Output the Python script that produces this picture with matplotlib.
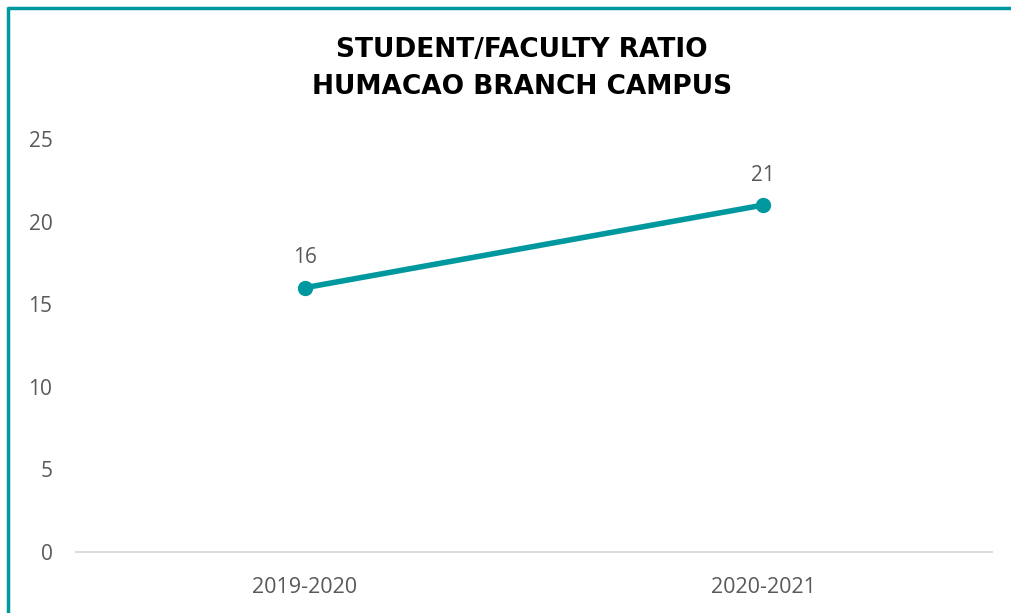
import matplotlib.pyplot as plt
from matplotlib.lines import Line2D

# Data
years = ['2019-2020', '2020-2021']
ratios = [16, 21]
y_ticks = [0, 5, 10, 15, 20, 25]

TEAL = '#00989F'
GREY_TEXT = '#595959'

fig = plt.figure(figsize=(10.12, 6.13), dpi=100)
ax = fig.add_axes([0.0751, 0.0995, 0.9051, 0.6737])

x = list(range(len(years)))
ax.plot(x, ratios, color=TEAL, linewidth=4, marker='o', markersize=10,
        solid_capstyle='round')

# Data labels
for xi, v in zip(x, ratios):
    ax.annotate(f'{v}', (xi, v), xytext=(0, 14), textcoords='offset points',
                ha='center', va='bottom', fontsize=15, color=GREY_TEXT,
                family='Open Sans')

ax.set_xlim(-0.5, len(years) - 0.5)
ax.set_ylim(0, 25)
ax.set_xticks(x)
ax.set_xticklabels(years)
ax.set_yticks(y_ticks)

for side in ['top', 'right', 'left']:
    ax.spines[side].set_visible(False)
ax.spines['bottom'].set_color('#D9D9D9')
ax.spines['bottom'].set_linewidth(1.3)

ax.tick_params(axis='both', length=0, labelsize=15, labelcolor=GREY_TEXT)
ax.tick_params(axis='x', labelsize=15.5, pad=18)
ax.tick_params(axis='y', pad=17)
for lbl in ax.get_xticklabels() + ax.get_yticklabels():
    lbl.set_family('Open Sans')

# Title
fig.text(0.5155, 0.889, 'STUDENT/FACULTY RATIO\nHUMACAO BRANCH CAMPUS',
         ha='center', va='center', fontsize=19, fontweight='bold',
         family='DejaVu Sans', linespacing=1.55, color='black')

# Teal frame (top and left edges)
fig.add_artist(Line2D([7 / 1012, 1], [1 - 8 / 613, 1 - 8 / 613],
                      transform=fig.transFigure, color=TEAL, linewidth=2.5,
                      solid_capstyle='butt'))
fig.add_artist(Line2D([8 / 1012, 8 / 1012], [0, 1 - 7 / 613],
                      transform=fig.transFigure, color=TEAL, linewidth=2.5,
                      solid_capstyle='butt'))

fig.savefig('out.png', dpi=100)
